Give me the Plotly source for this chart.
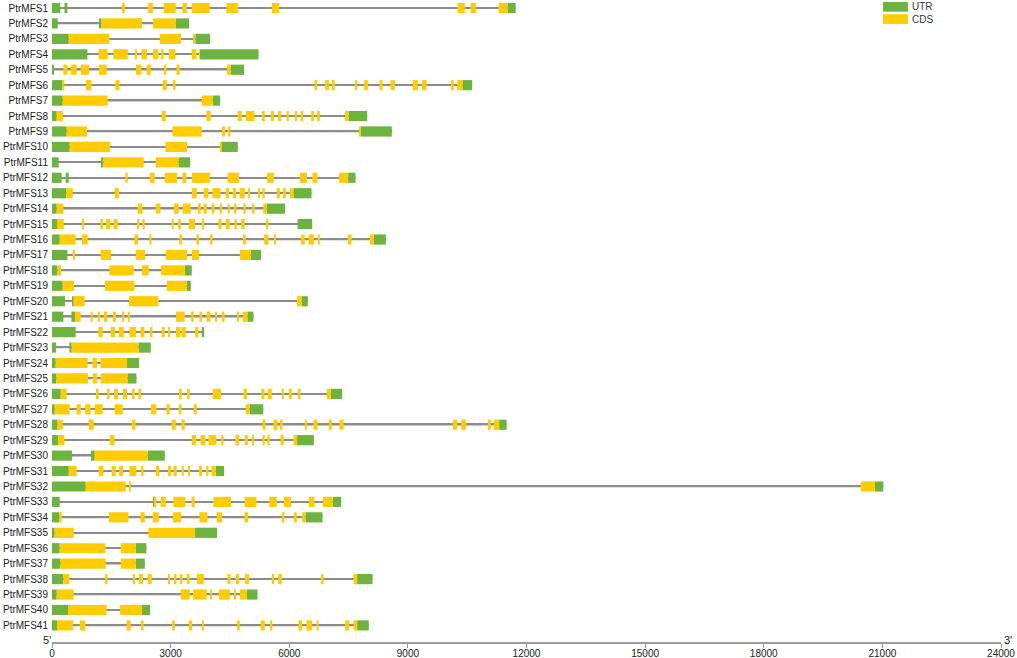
import plotly.graph_objects as go

# Gene structures: (start, end, kind) in bp, kind U = UTR, C = CDS
PtrMFS1 = [(0,210,"U"),(315,390,"U"),(1790,1840,"C"),(2430,2550,"C"),(2825,3130,"C"),(3300,3410,"C"),(3540,3990,"C"),(4410,4705,"C"),(5560,5745,"C"),(10255,10440,"C"),(10585,10720,"C"),(11295,11520,"C"),(11520,11725,"U")]
PtrMFS2 = [(0,144,"U"),(1189,1250,"U"),(1250,2277,"C"),(2555,3130,"C"),(3130,3466,"U")]
PtrMFS3 = [(0,423,"U"),(423,1452,"C"),(2725,3264,"C"),(3585,3618,"C"),(3628,3997,"U")]
PtrMFS4 = [(0,896,"U"),(1181,1409,"C"),(1553,1915,"C"),(2110,2151,"C"),(2262,2404,"C"),(2555,2692,"C"),(2775,2818,"C"),(2953,3122,"C"),(3534,3653,"C"),(3719,3737,"C"),(3737,5222,"U")]
PtrMFS5 = [(0,51,"U"),(288,390,"C"),(473,625,"C"),(726,936,"C"),(1189,1384,"C"),(2125,2262,"C"),(2396,2497,"C"),(2834,2894,"C"),(3147,3231,"C"),(4428,4521,"C"),(4521,4858,"U")]
PtrMFS6 = [(0,263,"U"),(263,314,"C"),(860,997,"C"),(1604,1705,"C"),(2801,2902,"C"),(3061,3122,"C"),(6639,6705,"C"),(6907,7008,"C"),(7076,7152,"C"),(7676,7717,"C"),(7894,7987,"C"),(8283,8359,"C"),(8562,8670,"C"),(9126,9252,"C"),(9353,9472,"C"),(10095,10163,"C"),(10247,10383,"C"),(10383,10626,"U")]
PtrMFS7 = [(0,271,"U"),(271,1409,"C"),(3787,4066,"C"),(4066,4250,"U")]
PtrMFS8 = [(0,119,"U"),(119,278,"C"),(2775,2877,"C"),(3906,4015,"C"),(4698,4799,"C"),(4901,5121,"C"),(5305,5381,"C"),(5533,5609,"C"),(5718,5794,"C"),(5930,5989,"C"),(6140,6199,"C"),(6285,6350,"C"),(6553,6629,"C"),(6705,6773,"C"),(7413,7499,"C"),(7499,7970,"U")]
PtrMFS9 = [(0,372,"U"),(372,886,"C"),(3046,3787,"C"),(4301,4377,"C"),(4453,4514,"C"),(7767,7810,"C"),(7810,8594,"U")]
PtrMFS10 = [(0,448,"U"),(448,1467,"C"),(2869,3416,"C"),(4250,4293,"C"),(4293,4698,"U")]
PtrMFS11 = [(0,170,"U"),(1240,1300,"U"),(1300,2320,"C"),(2624,3198,"C"),(3198,3491,"U")]
PtrMFS12 = [(0,245,"U"),(347,423,"U"),(1857,1915,"C"),(2472,2598,"C"),(2851,3163,"C"),(3299,3400,"C"),(3542,3997,"C"),(4438,4731,"C"),(5440,5609,"C"),(6267,6452,"C"),(6588,6715,"C"),(7261,7489,"C"),(7489,7676,"U")]
PtrMFS13 = [(0,364,"U"),(364,524,"C"),(1586,1695,"C"),(3542,3661,"C"),(3838,3957,"C"),(4058,4261,"C"),(4395,4478,"C"),(4572,4655,"C"),(4741,4875,"C"),(4969,5002,"C"),(5212,5262,"C"),(5323,5381,"C"),(5685,5761,"C"),(5844,5913,"C"),(6014,6107,"C"),(6107,6563,"U")]
PtrMFS14 = [(0,119,"U"),(119,288,"C"),(2168,2287,"C"),(2624,2743,"C"),(3087,3206,"C"),(3307,3509,"C"),(3686,3762,"C"),(3830,3914,"C"),(4040,4109,"C"),(4243,4301,"C"),(4445,4496,"C"),(4615,4665,"C"),(4842,4901,"C"),(5060,5121,"C"),(5343,5432,"C"),(5432,5895,"U")]
PtrMFS15 = [(0,127,"U"),(127,296,"C"),(769,802,"C"),(1225,1290,"C"),(1366,1478,"C"),(1553,1662,"C"),(2151,2201,"C"),(2287,2345,"C"),(3028,3079,"C"),(3188,3256,"C"),(3459,3618,"C"),(3787,3846,"C"),(4210,4286,"C"),(4395,4496,"C"),(4615,4673,"C"),(4782,4875,"C"),(5427,5470,"C"),(6209,6578,"U")]
PtrMFS16 = [(0,195,"U"),(195,600,"C"),(759,903,"C"),(2085,2176,"C"),(2464,2515,"C"),(3223,3289,"C"),(3653,3719,"C"),(4008,4058,"C"),(4832,4901,"C"),(5364,5475,"C"),(5629,5665,"C"),(6300,6393,"C"),(6487,6621,"C"),(6722,6773,"C"),(7481,7575,"C"),(8038,8139,"C"),(8139,8443,"U")]
PtrMFS17 = [(0,390,"U"),(524,582,"C"),(1232,1493,"C"),(2118,2353,"C"),(2877,3416,"C"),(3534,3719,"C"),(4749,5027,"C"),(5027,5288,"U")]
PtrMFS18 = [(0,137,"U"),(137,228,"C"),(1452,2067,"C"),(2277,2447,"C"),(2758,3357,"C"),(3357,3534,"U")]
PtrMFS19 = [(0,271,"U"),(271,557,"C"),(1341,2085,"C"),(2902,3408,"C"),(3408,3509,"U")]
PtrMFS20 = [(0,329,"U"),(506,541,"U"),(541,827,"C"),(1948,2692,"C"),(6199,6317,"C"),(6317,6469,"U")]
PtrMFS21 = [(0,288,"U"),(491,582,"U"),(582,726,"C"),(979,1030,"C"),(1156,1214,"C"),(1308,1402,"C"),(1543,1619,"C"),(1771,1822,"C"),(1915,1966,"C"),(3137,3357,"C"),(3517,3585,"C"),(3729,3795,"C"),(3906,4008,"C"),(4134,4175,"C"),(4293,4362,"C"),(4691,4731,"C"),(4825,4944,"C"),(4944,5095,"U")]
PtrMFS22 = [(0,600,"U"),(1174,1283,"C"),(1485,1594,"C"),(1688,1814,"C"),(1958,2125,"C"),(2237,2338,"C"),(2479,2540,"C"),(2775,2851,"C"),(2953,2978,"C"),(3137,3249,"C"),(3274,3383,"C"),(3618,3704,"C"),(3787,3846,"U")]
PtrMFS23 = [(0,101,"U"),(440,498,"U"),(498,2186,"C"),(2186,2497,"U")]
PtrMFS24 = [(0,94,"U"),(94,903,"C"),(1022,1139,"C"),(1225,1898,"C"),(1898,2201,"U")]
PtrMFS25 = [(0,111,"U"),(111,911,"C"),(1030,1139,"C"),(1232,1908,"C"),(1908,2135,"U")]
PtrMFS26 = [(0,220,"U"),(220,372,"C"),(1131,1181,"C"),(1402,1452,"C"),(1569,1670,"C"),(1796,1898,"C"),(2042,2092,"C"),(2186,2252,"C"),(3231,3281,"C"),(3416,3484,"C"),(4066,4276,"C"),(4842,4934,"C"),(5293,5376,"C"),(5457,5558,"C"),(5811,5862,"C"),(5989,6064,"C"),(6242,6285,"C"),(6950,7051,"C"),(7051,7337,"U")]
PtrMFS27 = [(0,68,"U"),(68,448,"C"),(617,726,"C"),(835,979,"C"),(1080,1283,"C"),(1586,1789,"C"),(2505,2641,"C"),(2894,2978,"C"),(3206,3274,"C"),(3585,3661,"C"),(4901,4994,"C"),(4994,5343,"U")]
PtrMFS28 = [(0,137,"U"),(137,271,"C"),(929,1055,"C"),(2016,2110,"C"),(3028,3130,"C"),(3274,3357,"C"),(5323,5399,"C"),(5601,5703,"C"),(5779,5829,"C"),(6393,6444,"C"),(6613,6715,"C"),(7001,7076,"C"),(7271,7372,"C"),(10138,10247,"C"),(10348,10474,"C"),(11023,11099,"C"),(11175,11309,"C"),(11309,11496,"U")]
PtrMFS29 = [(0,152,"U"),(152,314,"C"),(1460,1586,"C"),(3534,3643,"C"),(3755,3881,"C"),(3957,4159,"C"),(4276,4336,"C"),(4640,4731,"C"),(4875,4951,"C"),(5070,5111,"C"),(5323,5381,"C"),(5445,5508,"C"),(5779,5862,"C"),(6107,6199,"C"),(6199,6621,"U")]
PtrMFS30 = [(0,506,"U"),(987,1080,"U"),(1080,2421,"C"),(2421,2851,"U")]
PtrMFS31 = [(0,423,"U"),(423,625,"C"),(1181,1300,"C"),(1510,1612,"C"),(1695,1796,"C"),(1958,2135,"C"),(2252,2312,"C"),(2624,2717,"C"),(2935,3011,"C"),(3071,3155,"C"),(3281,3332,"C"),(3441,3484,"C"),(3719,3795,"C"),(3896,3957,"C"),(4033,4142,"C"),(4142,4352,"U")]
PtrMFS32 = [(0,853,"U"),(853,1865,"C"),(1958,1991,"C"),(20453,20814,"C"),(20814,21024,"U")]
PtrMFS33 = [(0,195,"U"),(2573,2598,"U"),(2598,2641,"C"),(2750,2877,"C"),(3071,3375,"C"),(3527,3610,"C"),(4083,4529,"C"),(4875,5171,"C"),(5495,5685,"C"),(5862,6047,"C"),(6495,6639,"C"),(6849,7094,"C"),(7094,7312,"U")]
PtrMFS34 = [(0,187,"U"),(187,245,"C"),(1442,1933,"C"),(2237,2345,"C"),(2548,2700,"C"),(3061,3264,"C"),(3729,3932,"C"),(4167,4301,"C"),(4868,4959,"C"),(5811,5880,"C"),(6115,6191,"C"),(6325,6411,"C"),(6411,6841,"U")]
PtrMFS35 = [(0,68,"U"),(68,549,"C"),(2439,3618,"C"),(3618,4175,"U")]
PtrMFS36 = [(0,195,"U"),(195,1351,"C"),(1738,2118,"C"),(2118,2388,"U")]
PtrMFS37 = [(0,212,"U"),(212,1359,"C"),(1738,2118,"C"),(2118,2345,"U")]
PtrMFS38 = [(0,288,"U"),(288,440,"C"),(1359,1402,"C"),(2042,2100,"C"),(2201,2302,"C"),(2421,2522,"C"),(2935,2985,"C"),(3097,3147,"C"),(3249,3299,"C"),(3408,3476,"C"),(3669,3838,"C"),(4438,4514,"C"),(4648,4731,"C"),(4883,4984,"C"),(5558,5617,"C"),(5718,5811,"C"),(6816,6866,"C"),(7625,7717,"C"),(7717,8106,"U")]
PtrMFS39 = [(0,119,"U"),(119,549,"C"),(3256,3484,"C"),(3567,3914,"C"),(4015,4048,"C"),(4218,4496,"C"),(4605,4640,"C"),(4749,4926,"C"),(4926,5197,"U")]
PtrMFS40 = [(0,405,"U"),(405,1384,"C"),(1720,2277,"C"),(2277,2479,"U")]
PtrMFS41 = [(0,127,"U"),(127,531,"C"),(701,845,"C"),(1890,1991,"C"),(2269,2312,"C"),(3036,3104,"C"),(3459,3542,"C"),(3795,3846,"C"),(4681,4749,"C"),(5280,5381,"C"),(5533,5571,"C"),(6234,6325,"C"),(6436,6578,"C"),(6689,6740,"C"),(7413,7514,"C"),(7625,7717,"C"),(7717,8012,"U")]

gene_names = ["PtrMFS%d" % i for i in range(1, 42)]
gene_structs = [PtrMFS1, PtrMFS2, PtrMFS3, PtrMFS4, PtrMFS5, PtrMFS6, PtrMFS7, PtrMFS8, PtrMFS9, PtrMFS10,
                PtrMFS11, PtrMFS12, PtrMFS13, PtrMFS14, PtrMFS15, PtrMFS16, PtrMFS17, PtrMFS18, PtrMFS19, PtrMFS20,
                PtrMFS21, PtrMFS22, PtrMFS23, PtrMFS24, PtrMFS25, PtrMFS26, PtrMFS27, PtrMFS28, PtrMFS29, PtrMFS30,
                PtrMFS31, PtrMFS32, PtrMFS33, PtrMFS34, PtrMFS35, PtrMFS36, PtrMFS37, PtrMFS38, PtrMFS39, PtrMFS40,
                PtrMFS41]
x_ticks = [0, 3000, 6000, 9000, 12000, 15000, 18000, 21000, 24000]
legend_labels = ["UTR", "CDS"]

GREEN = "#6db33f"
YELLOW = "#ffcc00"
GRAY = "#8c8c8c"
FONT = "Arial, Liberation Sans, sans-serif"

fig = go.Figure()

# intron / gene-span lines
line_y, line_base, line_len = [], [], []
for i, exons in enumerate(gene_structs, start=1):
    s = min(e[0] for e in exons)
    t = max(e[1] for e in exons)
    line_y.append(i); line_base.append(s); line_len.append(t - s)
fig.add_trace(go.Bar(y=line_y, x=line_len, base=line_base, orientation="h", width=0.1,
                     marker=dict(color=GRAY, line=dict(width=0)), showlegend=False, hoverinfo="skip"))

for kind, color in (("U", GREEN), ("C", YELLOW)):
    ys, bases, lens = [], [], []
    for i, exons in enumerate(gene_structs, start=1):
        for s, t, k in exons:
            if k == kind:
                ys.append(i); bases.append(s); lens.append(t - s)
    fig.add_trace(go.Bar(y=ys, x=lens, base=bases, orientation="h", width=0.66,
                         marker=dict(color=color, line=dict(width=0)), showlegend=False))

# legend swatches
for j, (lab, color) in enumerate(zip(legend_labels, (GREEN, YELLOW))):
    y0 = 0.9969 - j * 0.0191
    fig.add_shape(type="rect", xref="paper", yref="paper", x0=0.8757, x1=0.9019,
                  y0=y0 - 0.0151, y1=y0, fillcolor=color, line=dict(width=0))
    fig.add_annotation(xref="paper", yref="paper", x=0.9045, y=y0 - 0.0075, text=lab,
                       showarrow=False, xanchor="left", yanchor="middle",
                       font=dict(size=10, color="#333333", family=FONT))

fig.add_annotation(xref="paper", yref="paper", x=0, y=0, text="5'", showarrow=False,
                   xanchor="right", yanchor="bottom", xshift=1, yshift=-6,
                   font=dict(size=11, color="#222222", family=FONT))
fig.add_annotation(xref="paper", yref="paper", x=1, y=0, text="3'", showarrow=False,
                   xanchor="left", yanchor="bottom", xshift=1, yshift=-6,
                   font=dict(size=11, color="#222222", family=FONT))

fig.update_layout(
    width=1017, height=658,
    margin=dict(l=52, r=16, t=0, b=16, autoexpand=False),
    barmode="overlay",
    plot_bgcolor="white", paper_bgcolor="white",
    font=dict(family=FONT, size=10, color="#222222"),
    showlegend=False,
    xaxis=dict(range=[0, 24000], tickvals=x_ticks, ticktext=[str(v) for v in x_ticks],
               showgrid=False, zeroline=False, showline=True, linecolor="#9a9a9a", linewidth=1.5,
               ticks="outside", ticklen=4, tickcolor="#9a9a9a", tickwidth=1, automargin=False,
               ticklabelstandoff=-3,
               tickfont=dict(size=10, color="#222222", family=FONT)),
    yaxis=dict(range=[42.075, 0.482], tickvals=list(range(1, 42)), ticktext=gene_names,
               showgrid=False, zeroline=False, showline=False, ticks="", automargin=False,
               ticklabelstandoff=3,
               tickfont=dict(size=10, color="#222222", family=FONT)),
)

fig.write_html("out.html", config={"displayModeBar": False},
               post_script="document.body.style.margin='0';document.body.style.overflow='hidden';")
